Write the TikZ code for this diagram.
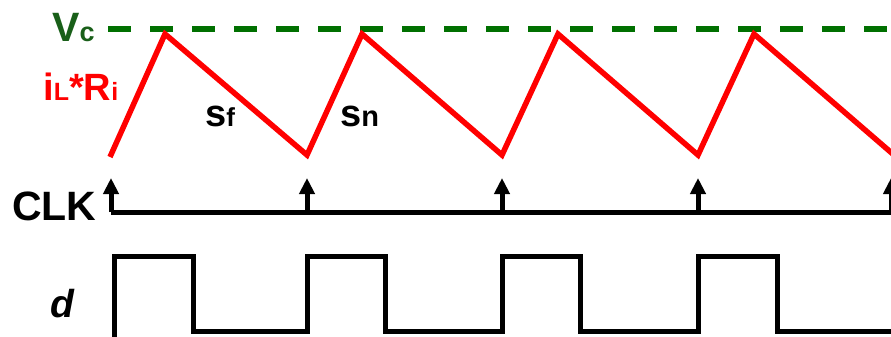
\documentclass[tikz,border=0pt]{standalone}
\usepackage{fontspec}
\setmainfont{Liberation Sans}
\usetikzlibrary{arrows.meta}
\definecolor{vgreen}{RGB}{0,112,0}
\definecolor{vtext}{RGB}{25,95,25}
\begin{document}
\begin{tikzpicture}[x=1pt,y=-1pt,
  saw/.style={red, line width=5.5pt},
  refline/.style={vgreen, line width=6pt, dash pattern=on 23pt off 19pt},
  sig/.style={black, line width=5pt},
  clkarrow/.style={black, line width=5pt, -{Triangle[length=16pt,width=15pt]}},
  lbl/.style={inner sep=0pt, anchor=base west, font=\bfseries}]
\useasboundingbox (0,0) rectangle (891,337);
\begin{scope}
\clip (0,0) rectangle (891,337);
% reference level
\draw[refline] (108,29) -- (900,29);
% sawtooth
\draw[saw] (110,157) -- (165,34) -- (307,155) -- (362,34) -- (502,155)
  -- (558,34) -- (698,155) -- (754,34) -- (894,155) -- (949,34);
% clock
\draw[sig] (111,212) -- (900,212);
\foreach \x/\n in {111/a,307/b,502/c,698/d,891/e}{
  \coordinate (clk\n) at (\x,212);
  \coordinate (tip\n) at (\x,178);
  \draw[clkarrow] (clk\n) -- (tip\n);
}
% duty signal
\draw[sig] (114,337) -- (114,256) -- (193,256) -- (193,331) -- (307,331)
  -- (307,256) -- (385,256) -- (385,331) -- (502,331) -- (502,256)
  -- (580,256) -- (580,331) -- (698,331) -- (698,256) -- (777,256)
  -- (777,331) -- (900,331);
\end{scope}
% labels
\node[lbl, text=vtext] (vc) at (52,42) {\fontsize{41}{41}\selectfont V\fontsize{27}{27}\selectfont c};
\node[lbl, text=red] (il) at (43,100) {\fontsize{38}{38}\selectfont i\fontsize{25}{25}\selectfont L\fontsize{38}{38}\selectfont *R\fontsize{25}{25}\selectfont i};
\node[lbl] (sf) at (205,126) {\fontsize{38}{38}\selectfont s\fontsize{26}{26}\selectfont f};
\node[lbl] (sn) at (340,126) {\fontsize{38}{38}\selectfont s\fontsize{29}{29}\selectfont n};
\node[lbl] (clk) at (12,220) {\fontsize{41}{41}\selectfont CLK};
\node[lbl, font=\bfseries\itshape] (d) at (50,317) {\fontsize{39}{39}\selectfont d};
\end{tikzpicture}
\end{document}
